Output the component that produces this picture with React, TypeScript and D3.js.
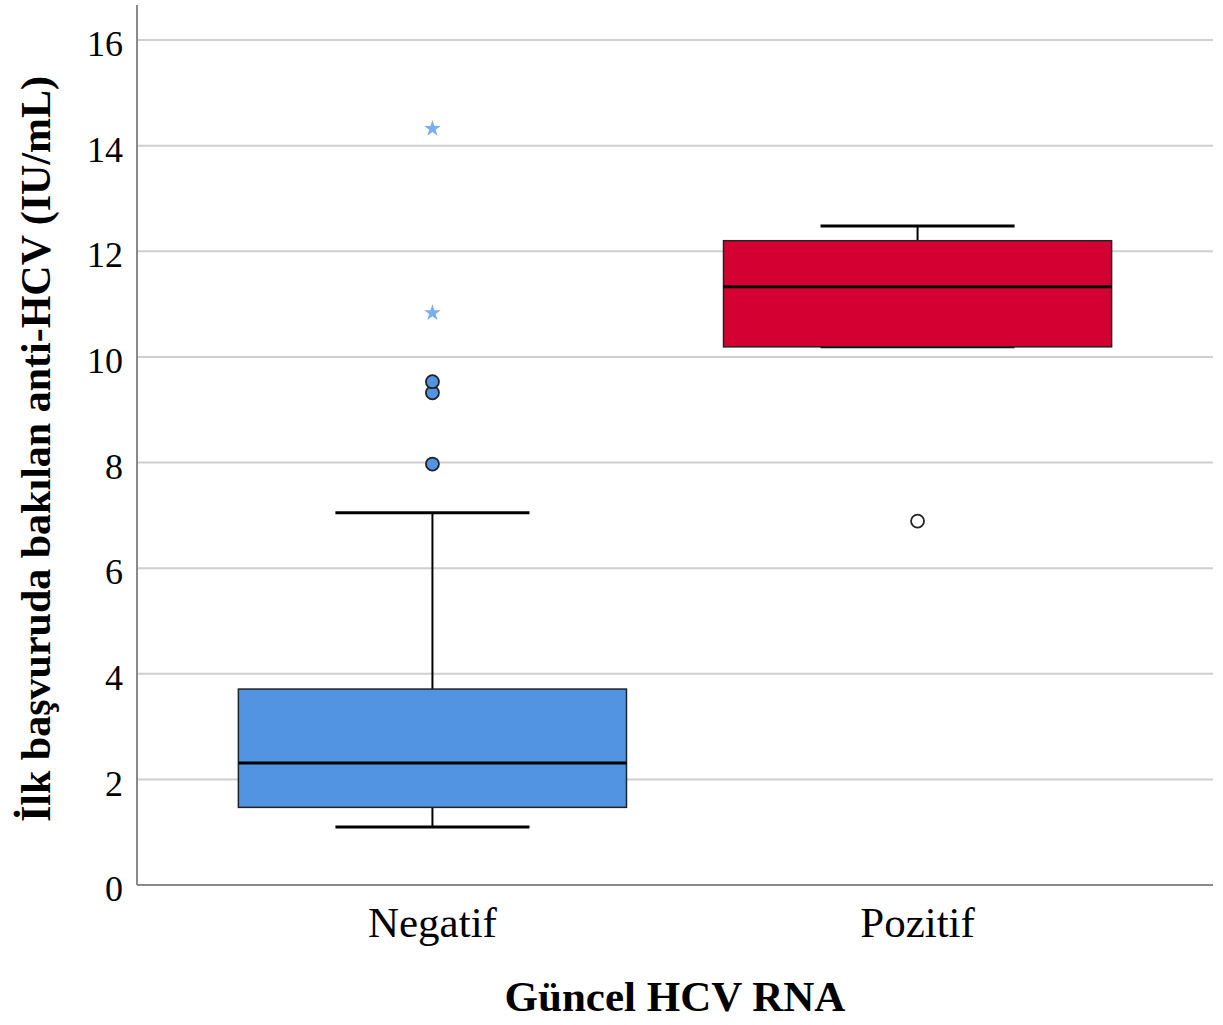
import React from "react";
import * as d3 from "d3";

const categories = ["Negatif", "Pozitif"];
const whiskerLow = [1.1, 10.19];
const q1 = [1.47, 10.19];
const median = [2.31, 11.33];
const q3 = [3.71, 12.2];
const whiskerHigh = [7.05, 12.48];
const boxColors = ["#5294e2", "#d50032"];
const outlierCircles = [
  { cat: "Negatif", v: 7.97, filled: true },
  { cat: "Negatif", v: 9.32, filled: true },
  { cat: "Negatif", v: 9.53, filled: true },
  { cat: "Pozitif", v: 6.89, filled: false },
];
const extremeStars = [
  { cat: "Negatif", v: 10.83 },
  { cat: "Negatif", v: 14.32 },
];
const yTicks = [0, 2, 4, 6, 8, 10, 12, 14, 16];

export default function App() {
  const W = 1223, H = 1025;
  const left = 137, right = 1213, top = 5, bottom = 885;
  const y = d3.scaleLinear().domain([0, 16]).range([bottom, 40]);
  const x = d3.scalePoint<string>().domain(categories).range([left, right]).padding(0.609);
  const step = x.step();
  const boxW = step * 0.8;
  const capW = step * 0.4;
  const star = d3.symbol().type(d3.symbolStar).size(85)();
  const font = "'Liberation Serif', 'Times New Roman', serif";

  return (
    <svg width={W} height={H} style={{ position: "absolute", left: 0, top: 0, background: "#fff" }}>
      {yTicks.filter(t => t > 0).map(t => (
        <line key={"g" + t} x1={left} x2={right} y1={y(t)} y2={y(t)} stroke="#cfcfcf" strokeWidth={2} />
      ))}
      {categories.map((c, i) => {
        const cx = x(c)!;
        return (
          <g key={c}>
            <line x1={cx} x2={cx} y1={y(whiskerHigh[i])} y2={y(q3[i])} stroke="#000" strokeWidth={2} />
            <line x1={cx} x2={cx} y1={y(q1[i])} y2={y(whiskerLow[i])} stroke="#000" strokeWidth={2} />
            <line x1={cx - capW / 2} x2={cx + capW / 2} y1={y(whiskerHigh[i])} y2={y(whiskerHigh[i])} stroke="#000" strokeWidth={3} />
            <line x1={cx - capW / 2} x2={cx + capW / 2} y1={y(whiskerLow[i])} y2={y(whiskerLow[i])} stroke="#000" strokeWidth={3} />
            <rect x={cx - boxW / 2} y={y(q3[i])} width={boxW} height={y(q1[i]) - y(q3[i])} fill={boxColors[i]} stroke="#222" strokeWidth={1.5} />
            <line x1={cx - boxW / 2} x2={cx + boxW / 2} y1={y(median[i])} y2={y(median[i])} stroke="#000" strokeWidth={3} />
          </g>
        );
      })}
      {outlierCircles.map((o, i) => (
        <circle key={"o" + i} cx={x(o.cat)!} cy={y(o.v)} r={6.5}
          fill={o.filled ? "#5294e2" : "#fff"} stroke="#222" strokeWidth={1.8} />
      ))}
      {extremeStars.map((s, i) => (
        <path key={"s" + i} d={star!} transform={`translate(${x(s.cat)},${y(s.v)})`} fill="#7aaeee" />
      ))}
      <line x1={left} x2={left} y1={top} y2={bottom} stroke="#8a8a8a" strokeWidth={2} />
      <line x1={left} x2={right} y1={bottom} y2={bottom} stroke="#8a8a8a" strokeWidth={2} />
      {yTicks.map(t => (
        <text key={"t" + t} x={123} y={y(t)} dy="0.45em" textAnchor="end" fontFamily={font} fontSize={36} fill="#000">{t}</text>
      ))}
      {categories.map(c => (
        <text key={"l" + c} x={x(c)!} y={937} textAnchor="middle" fontFamily={font} fontSize={43} fill="#000">{c}</text>
      ))}
      <text x={(left + right) / 2} y={1011} textAnchor="middle" fontFamily={font} fontSize={43} fontWeight="bold" fill="#000">Güncel HCV RNA</text>
      <text transform={`translate(50,${449}) rotate(-90)`} textAnchor="middle" fontFamily={font} fontSize={42} fontWeight="bold" fill="#000">İlk başvuruda bakılan anti-HCV (IU/mL)</text>
    </svg>
  );
}
